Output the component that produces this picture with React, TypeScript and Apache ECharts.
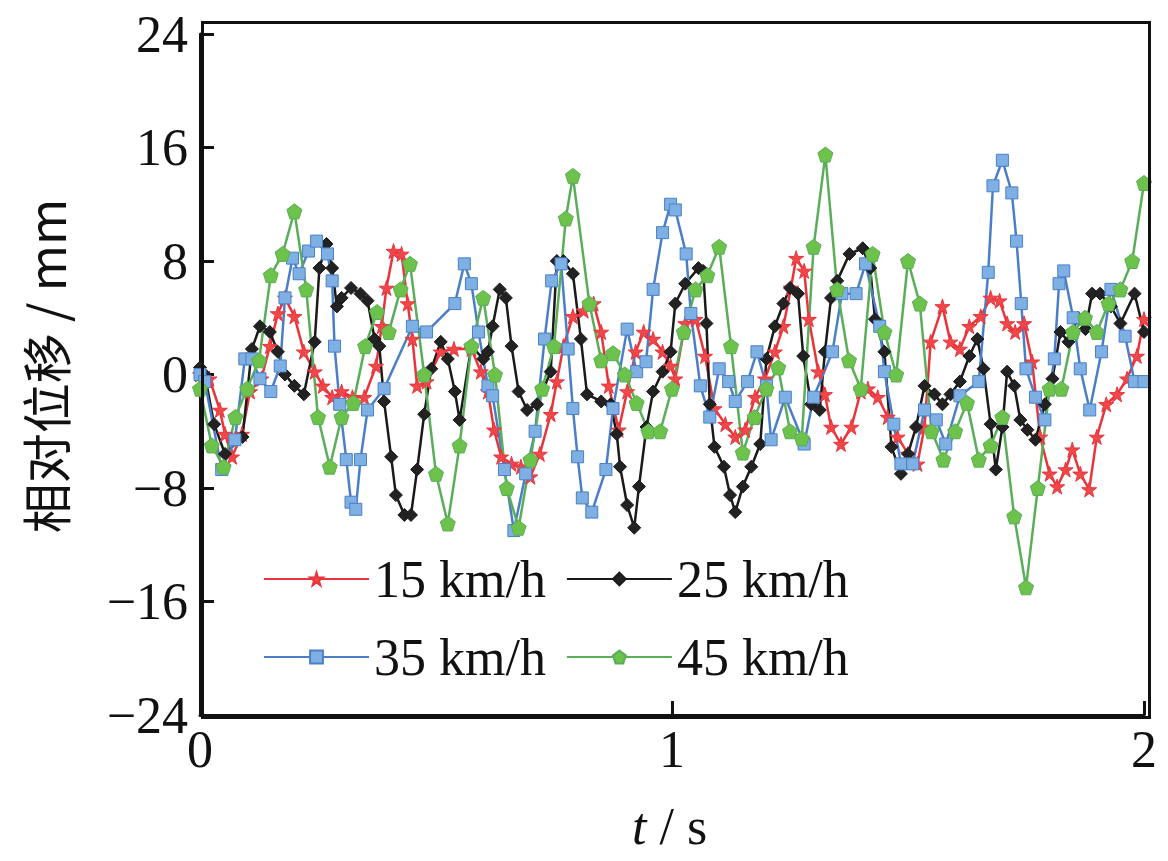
import React from 'react';
import * as echarts from 'echarts';

// [t (s), relative displacement (mm)]
const s15: number[][] = [
  [0, 0], [0.02, -0.3], [0.042, -2.5], [0.053, -4.2], [0.068, -5.8], [0.089, -4.2], [0.106, -1.2], [0.13, -0.3],
  [0.148, 2], [0.165, 4.3], [0.18, 5.4], [0.2, 4.1], [0.22, 1.6], [0.243, 0.2], [0.26, -0.8], [0.28, -1.6],
  [0.3, -1.2], [0.323, -1.6], [0.348, -1.6], [0.373, 0.6], [0.385, 3.4], [0.395, 6.1], [0.41, 8.7], [0.427, 8.5],
  [0.44, 5], [0.45, 2.5], [0.46, -0.8], [0.48, -0.5], [0.51, 1.6], [0.538, 1.8], [0.575, 1.8], [0.595, 0.2],
  [0.61, -1.2], [0.623, -3.9], [0.638, -5.8], [0.66, -6.3], [0.68, -6.5], [0.7, -7.2], [0.72, -5.6], [0.743, -2.8],
  [0.756, -0.5], [0.77, 2], [0.79, 4.1], [0.813, 4.5], [0.834, 5], [0.85, 3], [0.866, -0.8], [0.887, -3.9],
  [0.905, -1.2], [0.923, 1.6], [0.94, 3], [0.96, 2.5], [0.98, 1.6], [0.997, 0.6], [1.007, -0.3], [1.028, 3.6],
  [1.05, 3.9], [1.07, 1.3], [1.09, -2.4], [1.113, -3.5], [1.134, -4.4], [1.155, -3.9], [1.176, -1.6], [1.197, -0.3],
  [1.218, 1.6], [1.236, 3.4], [1.252, 6.1], [1.263, 8.2], [1.28, 7.3], [1.29, 3.9], [1.31, 0.2], [1.324, -1.4],
  [1.337, -3.7], [1.358, -4.9], [1.38, -3.7], [1.4, -1.2], [1.415, -1], [1.436, -1.6], [1.457, -3], [1.478, -4.4],
  [1.5, -5.6], [1.52, -6.3], [1.535, -3.7], [1.548, 2.3], [1.573, 4.8], [1.59, 2.3], [1.61, 1.8], [1.63, 3.4],
  [1.654, 4.1], [1.675, 5.4], [1.694, 5.2], [1.71, 3.6], [1.727, 3], [1.746, 3.6], [1.763, 0.9], [1.78, -4.4],
  [1.8, -7], [1.816, -7.9], [1.834, -6.7], [1.848, -5.3], [1.865, -7], [1.884, -8.1], [1.9, -4.4], [1.92, -2.1],
  [1.943, -1.4], [1.964, -0.3], [1.985, 1.3], [2.0, 3.9],
];

const s25: number[][] = [
  [0, 0.5], [0.01, 0], [0.03, -3.5], [0.053, -5.6], [0.09, -4.4], [0.11, 1.8], [0.127, 3.4], [0.148, 3], [0.165, 1.6],
  [0.18, 0], [0.2, -0.8], [0.22, -1.4], [0.243, 2.3], [0.253, 7.5], [0.268, 9.2], [0.28, 7.5], [0.29, 4.8],
  [0.3, 5.4], [0.32, 6.1], [0.34, 5.7], [0.355, 5.2], [0.37, 2.5], [0.38, 2], [0.39, -1.9], [0.405, -5.8],
  [0.415, -8.5], [0.433, -9.9], [0.447, -9.9], [0.46, -6.7], [0.475, -2.8], [0.49, 0.4], [0.51, 2.3], [0.525, 1.1],
  [0.54, -1.2], [0.55, -3.2], [0.575, 2], [0.6, 1.1], [0.61, 1.6], [0.62, 3.4], [0.635, 6], [0.648, 5.4],
  [0.66, 2], [0.675, -1.2], [0.693, -2.5], [0.714, -2.1], [0.743, 0.2], [0.756, 8], [0.77, 8], [0.79, 7.1],
  [0.807, 2.5], [0.82, -1.4], [0.85, -1.9], [0.87, -2.1], [0.883, -4.2], [0.89, -6.5], [0.905, -9.2], [0.92, -10.8],
  [0.93, -7.9], [0.946, -3.7], [0.96, -1.2], [0.98, 0.2], [0.997, 1.6], [1.007, 5], [1.028, 6.4], [1.056, 7.5],
  [1.066, 7.3], [1.073, 3.6], [1.08, -2.1], [1.09, -5.1], [1.11, -6.5], [1.123, -8.5], [1.134, -9.7], [1.15, -7.9],
  [1.168, -6.5], [1.187, -4.9], [1.2, 1.1], [1.218, 3.4], [1.236, 5], [1.25, 6.1], [1.267, 5.7], [1.278, 1.3],
  [1.295, -2.1], [1.313, -2.5], [1.324, 1.6], [1.337, 5.4], [1.35, 6.6], [1.376, 8.5], [1.404, 8.9], [1.42, 7.5],
  [1.43, 3.9], [1.45, 1.6], [1.465, -5.1], [1.485, -7], [1.5, -5.6], [1.517, -3.7], [1.535, -0.8], [1.556, -1.4],
  [1.573, -2.1], [1.59, -1.4], [1.61, -0.5], [1.63, 1.3], [1.647, 2.5], [1.66, 0.4], [1.675, -3.5], [1.686, -6.7],
  [1.7, -3.7], [1.71, 0.2], [1.725, -0.8], [1.738, -3.2], [1.753, -3.9], [1.77, -4.6], [1.79, -2.1], [1.806, -0.3],
  [1.823, 3], [1.84, 2.3], [1.86, 4], [1.876, 3.2], [1.89, 5.7], [1.907, 5.7], [1.93, 4.8], [1.95, 3.6],
  [1.98, 5.7], [2.0, 3],
];

const s35: number[][] = [
  [0, 0], [0.01, -0.5], [0.046, -6.7], [0.074, -4.6], [0.095, 1.1], [0.11, 1.1], [0.127, -0.3], [0.15, -1.2],
  [0.17, 0.6], [0.18, 5.4], [0.196, 8.2], [0.21, 7.1], [0.23, 8.7], [0.247, 9.4], [0.27, 8.5], [0.28, 6.6],
  [0.285, 2], [0.296, -2.1], [0.31, -6], [0.32, -9], [0.33, -9.5], [0.34, -6], [0.355, -2.5], [0.39, -1],
  [0.45, 3.4], [0.48, 3], [0.54, 5], [0.56, 7.8], [0.575, 6.4], [0.59, 3], [0.61, -0.8], [0.62, -1.5],
  [0.645, -6.7], [0.665, -11], [0.69, -7], [0.71, -4], [0.73, 2.5], [0.745, 6.6], [0.765, 7.8], [0.78, 1.8],
  [0.79, -2.4], [0.8, -5.8], [0.81, -8.7], [0.83, -9.7], [0.86, -6.7], [0.875, -2.4], [0.905, 3.2], [0.925, 0.2],
  [0.945, 0.9], [0.96, 6], [0.98, 10], [0.997, 12], [1.007, 11.6], [1.03, 8.5], [1.04, 4.3], [1.06, -0.8],
  [1.08, -3], [1.1, 0.4], [1.12, -0.5], [1.134, -1.9], [1.16, -0.5], [1.18, 1.6], [1.2, -0.8], [1.21, -4.6],
  [1.24, -1.6], [1.28, -4.9], [1.3, -1.6], [1.34, 1.6], [1.36, 5.7], [1.39, 5.7], [1.41, 7.8], [1.44, 3.4],
  [1.45, 0.2], [1.47, -3.5], [1.485, -6.3], [1.51, -6.3], [1.535, -2.5], [1.56, -3.2], [1.58, -4.9], [1.61, -1.5],
  [1.65, -0.5], [1.67, 7.2], [1.68, 13.3], [1.7, 15.1], [1.72, 12.8], [1.73, 9.4], [1.74, 5], [1.75, 0.4],
  [1.77, -1.6], [1.79, -3.2], [1.81, 1.1], [1.82, 6.4], [1.83, 7.3], [1.85, 4], [1.865, 0.4], [1.885, -2.5],
  [1.91, 1.6], [1.93, 6], [1.96, 2.7], [1.98, -0.5], [2.0, -0.5],
];

const s45: number[][] = [
  [0, -1], [0.025, -5], [0.05, -6.5], [0.075, -3], [0.1, -1], [0.125, 1], [0.15, 7], [0.175, 8.5], [0.2, 11.5],
  [0.225, 6], [0.25, -3], [0.275, -6.5], [0.3, -3], [0.325, -2], [0.35, 2], [0.375, 4.4], [0.4, 3], [0.425, 6],
  [0.445, 7.8], [0.475, 0], [0.5, -7], [0.525, -10.5], [0.55, -5], [0.575, 2], [0.6, 5.4], [0.625, 0], [0.65, -8],
  [0.675, -10.8], [0.7, -6], [0.725, -1], [0.75, 2], [0.775, 11], [0.79, 14], [0.825, 5], [0.85, 1], [0.875, 1.5],
  [0.9, 0], [0.925, -2], [0.95, -4], [0.975, -4], [1.0, -1], [1.025, 3], [1.05, 6], [1.075, 7], [1.1, 9],
  [1.125, 2], [1.15, -5.5], [1.175, -3], [1.2, -1], [1.225, 0.5], [1.25, -4], [1.275, -4.5], [1.3, 9],
  [1.325, 15.5], [1.35, 6], [1.375, 1], [1.4, -1], [1.425, 8.5], [1.45, 3], [1.475, 0], [1.5, 8], [1.525, 5],
  [1.55, -4], [1.575, -6], [1.6, -4], [1.625, -2], [1.65, -6], [1.675, -5], [1.7, -3], [1.725, -10], [1.75, -15],
  [1.775, -8], [1.8, -1], [1.825, -1], [1.85, 3], [1.875, 4], [1.9, 3], [1.925, 5], [1.95, 6], [1.975, 8], [2.0, 13.5],
];

const yTicks = [-24, -16, -8, 0, 8, 16, 24];

const STAR = 'path://M50,0 L61,35 L98,35 L68,57 L79,91 L50,70 L21,91 L32,57 L2,35 L39,35 Z';
const PENTA = 'path://M50,0 L98,35 L79,92 L21,92 L2,35 Z';

const font = '"Liberation Serif", "Times New Roman", serif';

export default function App() {
  const ref = React.useRef<HTMLDivElement>(null);

  React.useEffect(() => {
    if (!ref.current) return;
    const chart = echarts.init(ref.current, undefined, { renderer: 'svg' });

    const mk = (name: string, data: number[][], color: string, fill: string, symbol: string, size: number) => ({
      name,
      type: 'line' as const,
      data,
      symbol,
      symbolSize: size,
      lineStyle: { color, width: 2.5 },
      itemStyle: { color: fill, borderColor: color, borderWidth: 1 },
      z: 3,
    });

    const legendText = { fontFamily: font, fontSize: 52, color: '#111' };

    chart.setOption({
      animation: false,
      backgroundColor: '#fff',
      grid: { left: 192, top: 12, width: 947, height: 695 },
      legend: [
        {
          left: 250, top: 540, itemWidth: 105, itemHeight: 16, itemGap: 20,
          textStyle: legendText, data: ['15 km/h', '25 km/h'],
        },
        {
          left: 250, top: 618, itemWidth: 105, itemHeight: 16, itemGap: 20,
          textStyle: legendText, data: ['35 km/h', '45 km/h'],
        },
      ],
      xAxis: {
        type: 'value', min: 0, max: 2, interval: 1,
        axisLine: { onZero: false, lineStyle: { color: '#111', width: 3 } },
        axisTick: { inside: true, length: 14, lineStyle: { width: 3, color: '#111' } },
        axisLabel: { fontFamily: font, fontSize: 52, color: '#111', margin: 8 },
        splitLine: { show: false },
      },
      yAxis: {
        type: 'value', min: yTicks[0], max: yTicks[yTicks.length - 1], interval: 8,
        axisLine: { onZero: false, lineStyle: { color: '#111', width: 3 } },
        axisTick: { inside: true, length: 14, lineStyle: { width: 3, color: '#111' } },
        axisLabel: {
          fontFamily: font, fontSize: 52, color: '#111', margin: 12,
          formatter: (v: number) => (v < 0 ? '\u2212' + Math.abs(v) : String(v)),
        },
        splitLine: { show: false },
      },
      graphic: [
        {
          type: 'rect', left: 192, top: 12, z: 10, silent: true,
          shape: { width: 947, height: 695 },
          style: { fill: 'none', stroke: '#111', lineWidth: 3 },
        },
        {
          type: 'text', left: 624, top: 792,
          style: {
            text: '{i|t} / s',
            rich: { i: { fontStyle: 'italic', fontFamily: font, fontSize: 52, fill: '#111' } },
            fontFamily: font, fontSize: 52, fill: '#111',
          },
        },
        {
          type: 'text', x: 36, y: 358, rotation: Math.PI / 2,
          style: {
            text: '相对位移 / mm', fontFamily: '"Noto Sans CJK SC", serif', fontSize: 50, fill: '#111',
            align: 'center', verticalAlign: 'middle',
          },
        },
      ],
      series: [
        mk('15 km/h', s15, '#e8343a', '#f0474a', STAR, 15),
        mk('25 km/h', s25, '#1a1a1a', '#222', 'diamond', 13),
        mk('35 km/h', s35, '#4a7fc8', '#7fb0e3', 'rect', 12),
        mk('45 km/h', s45, '#5aae5a', '#6cc24a', PENTA, 15),
      ],
    });

    return () => chart.dispose();
  }, []);

  return <div ref={ref} style={{ width: 1152, height: 845 }} />;
}
